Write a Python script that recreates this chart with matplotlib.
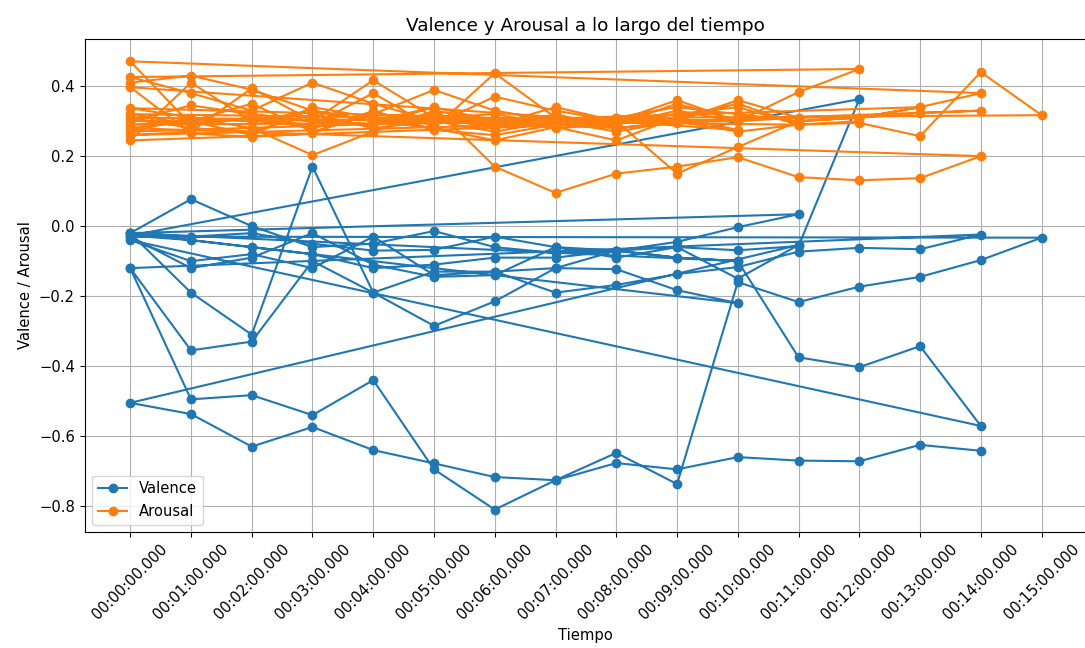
import matplotlib
matplotlib.use('Agg')
import matplotlib.pyplot as plt

tiempos = ['00:%02d:00.000' % m for m in range(16)]

# valence per session (one value per minute, starting at 00:00)
val_s1 = [-0.12, -0.355, -0.33, -0.10, -0.19, -0.13, -0.13, -0.12, -0.07, -0.09, -0.10]
val_s2 = [-0.02, -0.19, -0.31, 0.17, -0.19, -0.285, -0.215, -0.12, -0.123, -0.183, -0.22]
val_s3 = [-0.02, 0.077, 0.0, -0.06, -0.05, -0.014, -0.06, -0.077, -0.07, -0.045, -0.003, 0.034]
val_s4 = [-0.02, -0.03, -0.02, -0.05, -0.07, -0.068, -0.03, -0.06, -0.09, -0.06, -0.069, -0.057, 0.363]
val_s5 = [-0.027, -0.04, -0.06, -0.08, -0.12, -0.11, -0.09, -0.09, -0.07, -0.09, -0.10, -0.375, -0.403, -0.343, -0.571]
val_s6 = [-0.04, -0.10, -0.08, -0.12, -0.03, -0.14, -0.13, -0.19, -0.168, -0.137, -0.117, -0.073, -0.062, -0.066, -0.024]
val_s7 = [-0.12, -0.495, -0.483, -0.54, -0.44, -0.695, -0.81, -0.726, -0.648, -0.737, -0.16, -0.217, -0.173, -0.145, -0.097, -0.033]
val_s8 = [-0.03, -0.12, -0.09, -0.02, -0.11, -0.145, -0.14, -0.06, -0.07, -0.06, -0.15, -0.054]
val_s9 = [-0.505, -0.537, -0.63, -0.574, -0.64, -0.678, -0.717, -0.726, -0.677, -0.695, -0.66, -0.67, -0.672, -0.625, -0.642]

# arousal per session
aro_s1 = [0.41, 0.43, 0.39, 0.33, 0.30, 0.28, 0.437, 0.31, 0.29, 0.33, 0.30, 0.383, 0.449]
aro_s2 = [0.426, 0.38, 0.33, 0.41, 0.35, 0.30, 0.29, 0.34, 0.30, 0.36, 0.30, 0.31, 0.31, 0.34, 0.38]
aro_s3 = [0.471, 0.29, 0.31, 0.28, 0.32, 0.389, 0.33, 0.30, 0.27, 0.30, 0.27, 0.29, 0.295, 0.257, 0.44, 0.317]
aro_s4 = [0.30, 0.345, 0.32, 0.30, 0.417, 0.31, 0.28, 0.32, 0.28, 0.295]
aro_s5 = [0.337, 0.31, 0.28, 0.203, 0.27, 0.33, 0.30, 0.29, 0.31, 0.30, 0.36, 0.31]
aro_s6 = [0.26, 0.27, 0.394, 0.30, 0.29, 0.34, 0.17, 0.095, 0.15, 0.17, 0.197, 0.14, 0.131, 0.137, 0.20]
aro_s7 = [0.28, 0.30, 0.26, 0.34, 0.31, 0.29, 0.37, 0.33, 0.30, 0.15, 0.226, 0.30, 0.31, 0.323, 0.33]
aro_s8 = [0.245, 0.41, 0.30, 0.29, 0.38, 0.28, 0.245, 0.283, 0.245, 0.31, 0.275]
aro_s9 = [0.397, 0.265, 0.255, 0.265, 0.33, 0.275, 0.26, 0.29, 0.30, 0.32, 0.34, 0.29]
aro_s10 = [0.31, 0.28, 0.27, 0.32, 0.28, 0.30, 0.27, 0.30, 0.31, 0.34, 0.32, 0.30, 0.31, 0.34]
aro_s11 = [0.27, 0.31, 0.30, 0.33, 0.30, 0.34, 0.30, 0.28, 0.29, 0.35, 0.30]
aro_s12 = [0.29, 0.30, 0.35, 0.27, 0.32, 0.31, 0.32, 0.29, 0.28, 0.30]
aro_s13 = [0.32, 0.29, 0.31, 0.30, 0.29, 0.32, 0.29, 0.31, 0.30, 0.31, 0.35, 0.29, 0.30]


def concat(sessions):
    xs, ys = [], []
    for s in sessions:
        xs.extend(tiempos[:len(s)])
        ys.extend(s)
    return xs, ys

vx, vy = concat([val_s1, val_s2, val_s3, val_s4, val_s5, val_s6, val_s7, val_s8, val_s9])
ax_, ay = concat([aro_s1, aro_s2, aro_s3, aro_s4, aro_s5, aro_s6, aro_s7, aro_s8,
                  aro_s9, aro_s10, aro_s11, aro_s12, aro_s13])

plt.rcParams['font.size'] = 10.6

fig = plt.figure(figsize=(10.85, 6.48), dpi=100)
ax = fig.add_axes([0.078, 0.179, 0.924, 0.761])
ax.plot(vx, vy, marker='o', label='Valence')
ax.plot(ax_, ay, marker='o', label='Arousal')
ax.set_title('Valence y Arousal a lo largo del tiempo', fontsize=13.2)
ax.set_xlabel('Tiempo')
ax.set_ylabel('Valence / Arousal')
ax.tick_params(axis='x', rotation=45)
ax.legend(loc='lower left')
ax.grid(True)
fig.savefig('out.png', dpi=100)
